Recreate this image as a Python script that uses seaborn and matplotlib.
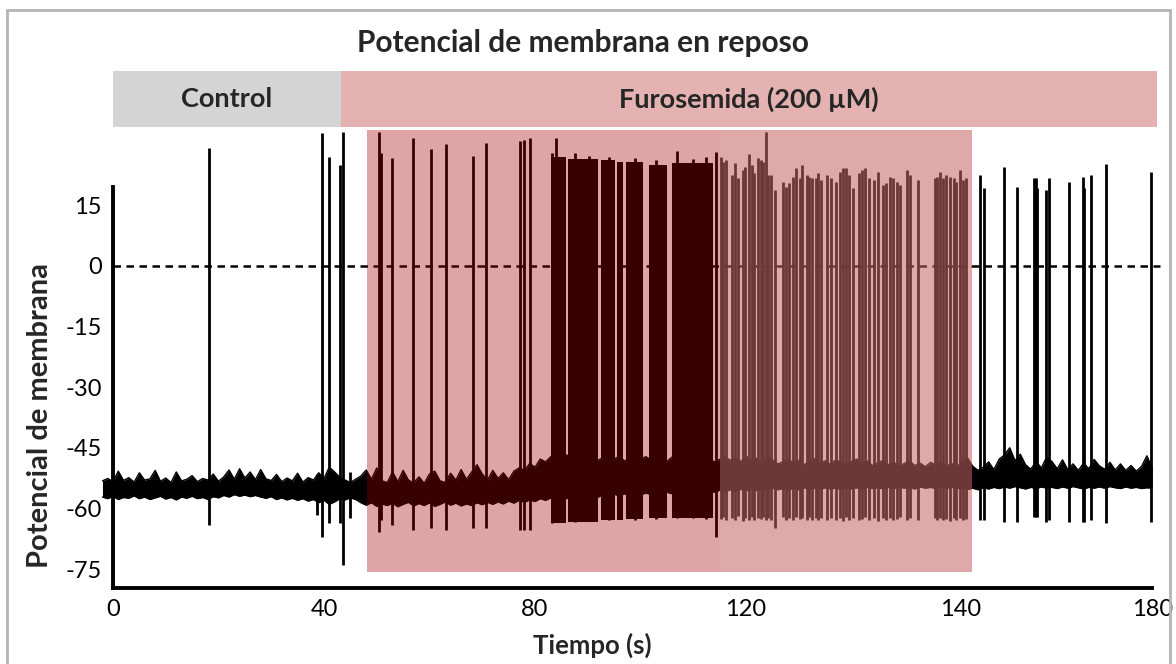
import numpy as np
import matplotlib
matplotlib.use('Agg')
import matplotlib.pyplot as plt
import seaborn as sns
from matplotlib.patches import Rectangle

# ------------------------------------------------------------
# data (time in axis units, membrane potential in mV)
# ------------------------------------------------------------
phase_labels = ["Control", "Furosemida (200 µM)"]
phase_start = [0.0, 43.2]
phase_end = [43.2, 197.9]

# shaded treatment windows
window_start = [48.15, 115.07]
window_end = [115.07, 162.84]

# baseline band (upper and lower edge of the noisy resting trace)
base_t = np.arange(-2, 198, 1)
base_hi = [
    -53.2, -52.6, -53.4, -50.8, -53.1, -52.4, -53.5, -51.2, -53.0, -52.7,
    -50.6, -53.3, -52.5, -53.6, -51.0, -53.2, -52.8, -51.9, -53.4, -52.6,
    -53.0, -51.5, -53.3, -52.2, -50.5, -52.8, -50.2, -52.5, -51.0, -52.9,
    -50.4, -52.7, -53.1, -51.6, -53.4, -52.5, -53.2, -51.3, -53.5, -52.4,
    -53.0, -51.2, -52.6, -49.8, -51.0, -52.3, -53.0, -53.6, -52.8, -52.0,
    -50.5, -52.8, -50.0, -53.2, -53.6, -51.0, -53.4, -50.6, -53.0, -53.7,
    -52.2, -53.8, -51.5, -50.8, -53.2, -53.6, -51.3, -53.0, -50.4, -52.8,
    -51.0, -49.2, -51.5, -53.0, -50.6, -52.6, -51.2, -52.9, -50.8, -50.0,
    -50.6, -48.9, -49.8, -47.8, -48.5, -47.2, -48.0, -47.5, -46.8, -47.9,
    -47.0, -48.2, -47.4, -46.9, -48.1, -47.3, -46.6, -47.8, -47.1, -48.3,
    -47.5, -46.8, -47.9, -47.2, -48.0, -46.9, -47.6, -48.4, -47.3, -46.7,
    -47.8, -47.0, -48.2, -47.4, -46.8, -47.6, -48.5, -47.9, -47.2, -48.1,
    -47.5, -48.4, -47.0, -48.2, -47.6, -48.8, -47.3, -48.0, -49.0, -48.5,
    -47.9, -48.7, -48.1, -49.2, -48.4, -47.7, -48.9, -48.2, -49.1, -48.0,
    -48.6, -49.3, -48.4, -47.8, -49.0, -48.3, -49.4, -48.7, -48.1, -49.2,
    -48.5, -49.6, -48.9, -48.2, -49.4, -48.8, -49.7, -48.6, -49.3, -48.4,
    -49.5, -48.9, -49.8, -48.3, -47.5, -49.6, -50.6, -49.8, -48.5, -50.4,
    -47.8, -46.8, -45.0, -48.2, -46.6, -49.2, -50.3, -48.4, -50.0, -47.3,
    -48.4, -50.2, -48.0, -50.4, -49.0, -50.6, -48.8, -50.2, -47.9, -49.5,
    -50.3, -48.6, -50.5, -49.0, -50.6, -49.4, -50.8, -49.6, -47.0, -50.0,
]
base_lo = [
    -57.2, -57.6, -57.0, -57.8, -57.3, -57.5, -56.9, -57.6, -57.2, -57.8,
    -57.4, -57.0, -57.7, -57.3, -57.9, -57.2, -57.5, -57.0, -57.6, -57.3,
    -57.8, -57.1, -57.4, -56.8, -57.2, -56.6, -57.0, -56.7, -57.1, -56.8,
    -57.2, -57.5, -57.1, -57.8, -57.4, -57.9, -57.5, -58.0, -57.6, -58.2,
    -57.8, -58.6, -58.0, -59.0, -58.4, -57.6, -57.9, -57.4, -57.8, -58.6,
    -59.2, -58.6, -59.5, -58.9, -59.3, -58.7, -59.6, -59.0, -58.5, -59.4,
    -58.8, -59.3, -58.6, -59.5, -59.0, -58.4, -59.2, -58.7, -59.4, -58.9,
    -59.3, -58.6, -59.1, -58.5, -59.0, -58.4, -58.9, -58.2, -58.7, -58.0,
    -58.5, -57.9, -58.3, -57.6, -58.0, -57.4, -57.8, -57.2, -57.6, -57.0,
    -57.5, -56.9, -57.3, -56.8, -57.2, -56.6, -57.0, -56.5, -56.9, -56.4,
    -56.8, -56.3, -56.7, -56.2, -56.6, -56.1, -56.5, -56.0, -56.4, -55.9,
    -56.3, -55.8, -56.2, -55.7, -56.1, -55.6, -56.0, -55.5, -55.9, -55.4,
    -55.8, -55.3, -55.7, -55.2, -55.6, -55.1, -55.5, -55.0, -55.4, -55.1,
    -55.5, -55.0, -55.4, -54.9, -55.3, -55.0, -55.4, -54.9, -55.2, -55.0,
    -55.3, -54.8, -55.2, -54.9, -55.3, -54.8, -55.1, -54.9, -55.2, -54.8,
    -55.1, -54.7, -55.0, -54.8, -55.2, -54.7, -55.0, -54.8, -55.1, -54.7,
    -55.0, -54.8, -55.1, -54.9, -55.3, -55.0, -55.4, -54.9, -55.2, -54.8,
    -55.1, -54.7, -55.0, -54.6, -54.9, -55.2, -54.8, -55.1, -54.7, -55.0,
    -54.8, -55.1, -54.7, -55.0, -54.6, -54.9, -55.2, -54.8, -55.0, -54.7,
    -55.0, -54.6, -54.9, -55.1, -54.7, -55.0, -54.8, -55.1, -54.9, -55.0,
]

# action potentials: time, peak, trough
spike_t = [
    18.2, 38.7, 39.6, 40.9, 43.0, 43.6, 44.9,
    50.4, 50.8, 52.8, 56.9, 60.3, 63.1, 68.2, 70.8, 77.2, 77.9, 79.1,
    83.2, 84.0, 87.5, 90.2, 94.0, 99.0, 103.0, 107.0, 110.0, 112.5, 114.4,
    115.3, 115.6, 116.3, 117.3, 117.9, 118.5, 119.4, 119.8, 120.6, 121.1,
    121.5, 122.3, 122.8, 123.3, 123.8, 124.2, 124.7, 125.5, 127.0, 127.6,
    128.2, 129.0, 129.5, 130.2, 130.7, 131.5, 132.0, 132.6, 133.3, 133.7,
    134.3, 135.3,
    136.2, 137.0, 137.8, 138.3, 139.0, 139.6, 140.2, 141.5, 141.9, 142.6,
    143.4, 144.3, 145.1, 145.9, 146.5, 147.3, 147.8, 148.6, 149.2, 150.6,
    151.1, 152.7, 155.8, 156.3, 156.8, 157.4, 158.0, 158.7, 159.4, 159.9,
    160.6, 161.2, 161.8,
    164.4, 165.1, 169.0, 171.3, 174.6, 174.9, 175.2, 176.9, 177.5, 181.2,
    183.8, 184.1, 185.5, 188.2, 196.7,
]
spike_peak = [
    29.2, -51.5, 32.9, 26.9, 25.0, 33.1, -51.0,
    33.1, 27.9, 26.7, 31.6, 28.9, 30.2, 27.2, 30.4, 30.9, 31.1, 31.6,
    27.9, 31.6, 27.9, 27.2, 27.0, 26.7, 26.2, 28.4, 26.5, 27.0, 28.2,
    27.0, 25.8, 26.2, 22.5, 25.4, 21.7, 23.7, 24.5, 27.6, 25.0,
    22.9, 26.6, 26.2, 25.8, 33.0, 22.5, 22.5, 18.8, 20.8, 19.6,
    20.4, 22.1, 24.1, 21.7, 25.0, 22.5, 22.1, 21.7, 21.7, 22.9,
    21.2, 22.5,
    21.7, 20.8, 23.3, 24.1, 24.1, 22.5, 19.2, 22.9, 23.7, 24.1,
    21.7, 21.2, 23.3, 20.0, 20.4, 22.1, 21.7, 20.8, 20.0, 23.7,
    22.5, 21.2, 21.7, 22.1, 23.3, 21.7, 22.5, 22.1, 21.7, 20.8,
    23.7, 21.2, 21.7,
    22.5, 19.2, 24.5, 19.6, 21.7, 21.7, 19.2, 18.8, 21.7, 20.8,
    22.1, 19.2, 22.5, 25.2, 23.2,
]
spike_trough = [
    -64.1, -61.6, -67.0, -63.6, -63.6, -74.0, -62.4,
    -65.8, -62.8, -64.1, -65.3, -64.8, -65.3, -64.8, -64.8, -65.3, -65.3, -65.3,
    -63.6, -63.3, -63.3, -63.0, -63.0, -62.8, -62.6, -62.4, -62.4, -62.6, -67.0,
    -62.6, -62.2, -63.0, -62.4, -62.8, -62.0, -63.1, -62.5, -62.9, -62.2,
    -63.0, -62.4, -62.7, -62.1, -62.9, -62.4, -63.0, -64.8, -62.2, -62.8,
    -62.4, -63.0, -62.1, -62.7, -62.3, -62.9, -62.2, -62.8, -62.4, -63.0,
    -62.5, -62.8,
    -62.3, -62.9, -62.5, -63.1, -62.2, -62.8, -62.4, -63.0, -62.6, -62.2,
    -62.9, -62.5, -63.1, -62.4, -62.8, -62.3, -63.0, -62.6, -62.2, -62.9,
    -62.5, -63.0, -62.4, -62.8, -62.3, -62.9, -62.6, -63.1, -62.4, -62.8,
    -62.5, -63.0, -62.7,
    -62.8, -62.8, -63.3, -63.3, -62.1, -62.1, -62.1, -63.3, -62.8, -63.3,
    -63.3, -63.3, -62.8, -63.6, -63.3,
]

# high frequency bursts (solid blocks of spikes)
burst_start = [83.0, 86.3, 92.5, 95.5, 97.3, 101.7, 105.9]
burst_end = [85.9, 92.0, 95.2, 96.7, 100.5, 105.1, 113.7]
burst_top = [27.0, 26.5, 26.2, 25.8, 25.8, 25.0, 25.4]
burst_bottom = [-63.6, -63.3, -63.0, -62.8, -62.6, -62.4, -62.4]

x_ticks = [0, 40, 80, 120, 160.6, 197]
x_ticklabels = ["0", "40", "80", "120", "140", "180"]
y_ticks = [15, 0, -15, -30, -45, -60, -75]

# ------------------------------------------------------------
# style
# ------------------------------------------------------------
sns.set_theme(style="white")
plt.rcParams['font.family'] = ['Lato', 'DejaVu Sans']
plt.rcParams['axes.unicode_minus'] = False

trace_black = "#000000"
trace_dark = "#380000"
trace_brown = "#6e3737"
win_colors = ["#dfa5a6", "#e0a9a9"]
header_colors = ["#d4d4d4", "#e5b2b2"]

W, H = 1176, 664
fig = plt.figure(figsize=(W / 100, H / 100), dpi=100)
ax = fig.add_axes([113 / W, 76 / H, 1049.7 / W, 460 / H])
ax.set_xlim(0, 199)
ax.set_ylim(-79.7, 34.1)


def trace_color(t):
    if window_start[0] <= t < window_end[0]:
        return trace_dark
    if window_start[1] <= t < window_end[1]:
        return trace_brown
    return trace_black


segments = [(-5, window_start[0], trace_black),
            (window_start[0], window_end[0], trace_dark),
            (window_start[1], window_end[1], trace_brown),
            (window_end[1], 205, trace_black)]

# treatment windows
for s, e, c in zip(window_start, window_end, win_colors):
    ax.add_patch(Rectangle((s, -75.7), e - s, 33.6 + 75.7, facecolor=c,
                           edgecolor='none', zorder=1))

# zero reference + baseline band, coloured by section
for a, b, c in segments:
    clip = Rectangle((a, -200), b - a, 400, transform=ax.transData)
    zl, = ax.plot([0, 198.5], [0, 0], color=c, lw=1.8, ls=(0, (3, 2.2)),
                  zorder=2)
    zl.set_clip_path(clip)
    band = ax.fill_between(base_t, base_lo, base_hi, color=c, lw=0, zorder=3)
    band.set_clip_path(clip)
    for edge in (base_hi, base_lo):
        sns.lineplot(x=base_t, y=edge, ax=ax, color=c, lw=1.0, zorder=3)
        ax.lines[-1].set_clip_path(clip)

# bursts
for s, e, top, bot in zip(burst_start, burst_end, burst_top, burst_bottom):
    ax.fill_between([s, e], [bot, bot], [top, top], color=trace_color(s),
                    lw=0, zorder=4)

# spikes
ax.vlines(spike_t, spike_trough, spike_peak,
          colors=[trace_color(t) for t in spike_t], lw=2.0, zorder=4)

# header bars
for lab, s, e, c in zip(phase_labels, phase_start, phase_end, header_colors):
    ax.add_patch(Rectangle((s, 34.4), e - s, 13.8, facecolor=c,
                           edgecolor='none', clip_on=False, zorder=1))
    ax.text((s + e) / 2, 41.3, lab, ha='center', va='center',
            fontsize=19.5, fontweight='bold', clip_on=False)

# axes styling
for side in ('top', 'right'):
    ax.spines[side].set_visible(False)
for side in ('left', 'bottom'):
    ax.spines[side].set_linewidth(2.8)
    ax.spines[side].set_color('black')
ax.spines['left'].set_bounds(-79.7, 19.5)
ax.spines['bottom'].set_bounds(0, 197)
ax.set_xticks(x_ticks)
ax.set_xticklabels(x_ticklabels)
ax.set_yticks(y_ticks)
ax.tick_params(axis='y', direction='in', length=9, width=2.6, labelsize=17,
               pad=8, colors='black')
ax.tick_params(axis='x', direction='in', length=5, width=2.6, labelsize=17,
               pad=8, colors='black')
ax.set_facecolor('none')

fig.text(583 / W, 1 - 43 / H, "Potencial de membrana en reposo",
         ha='center', va='center', fontsize=21.5, fontweight='bold')
fig.text(40 / W, 1 - 416 / H, "Potencial de membrana", rotation=90,
         ha='center', va='center', fontsize=21, fontweight='bold')
fig.text(592 / W, 1 - 645 / H, "Tiempo (s)", ha='center', va='center',
         fontsize=18.5, fontweight='bold')

# outer frame
fig.patches.append(Rectangle((7 / W, -0.02), 1163 / W, 1 - 10 / H + 0.02,
                             transform=fig.transFigure, fill=False,
                             edgecolor='#b4b4b4', lw=2))

fig.savefig("out.png", dpi=100)
